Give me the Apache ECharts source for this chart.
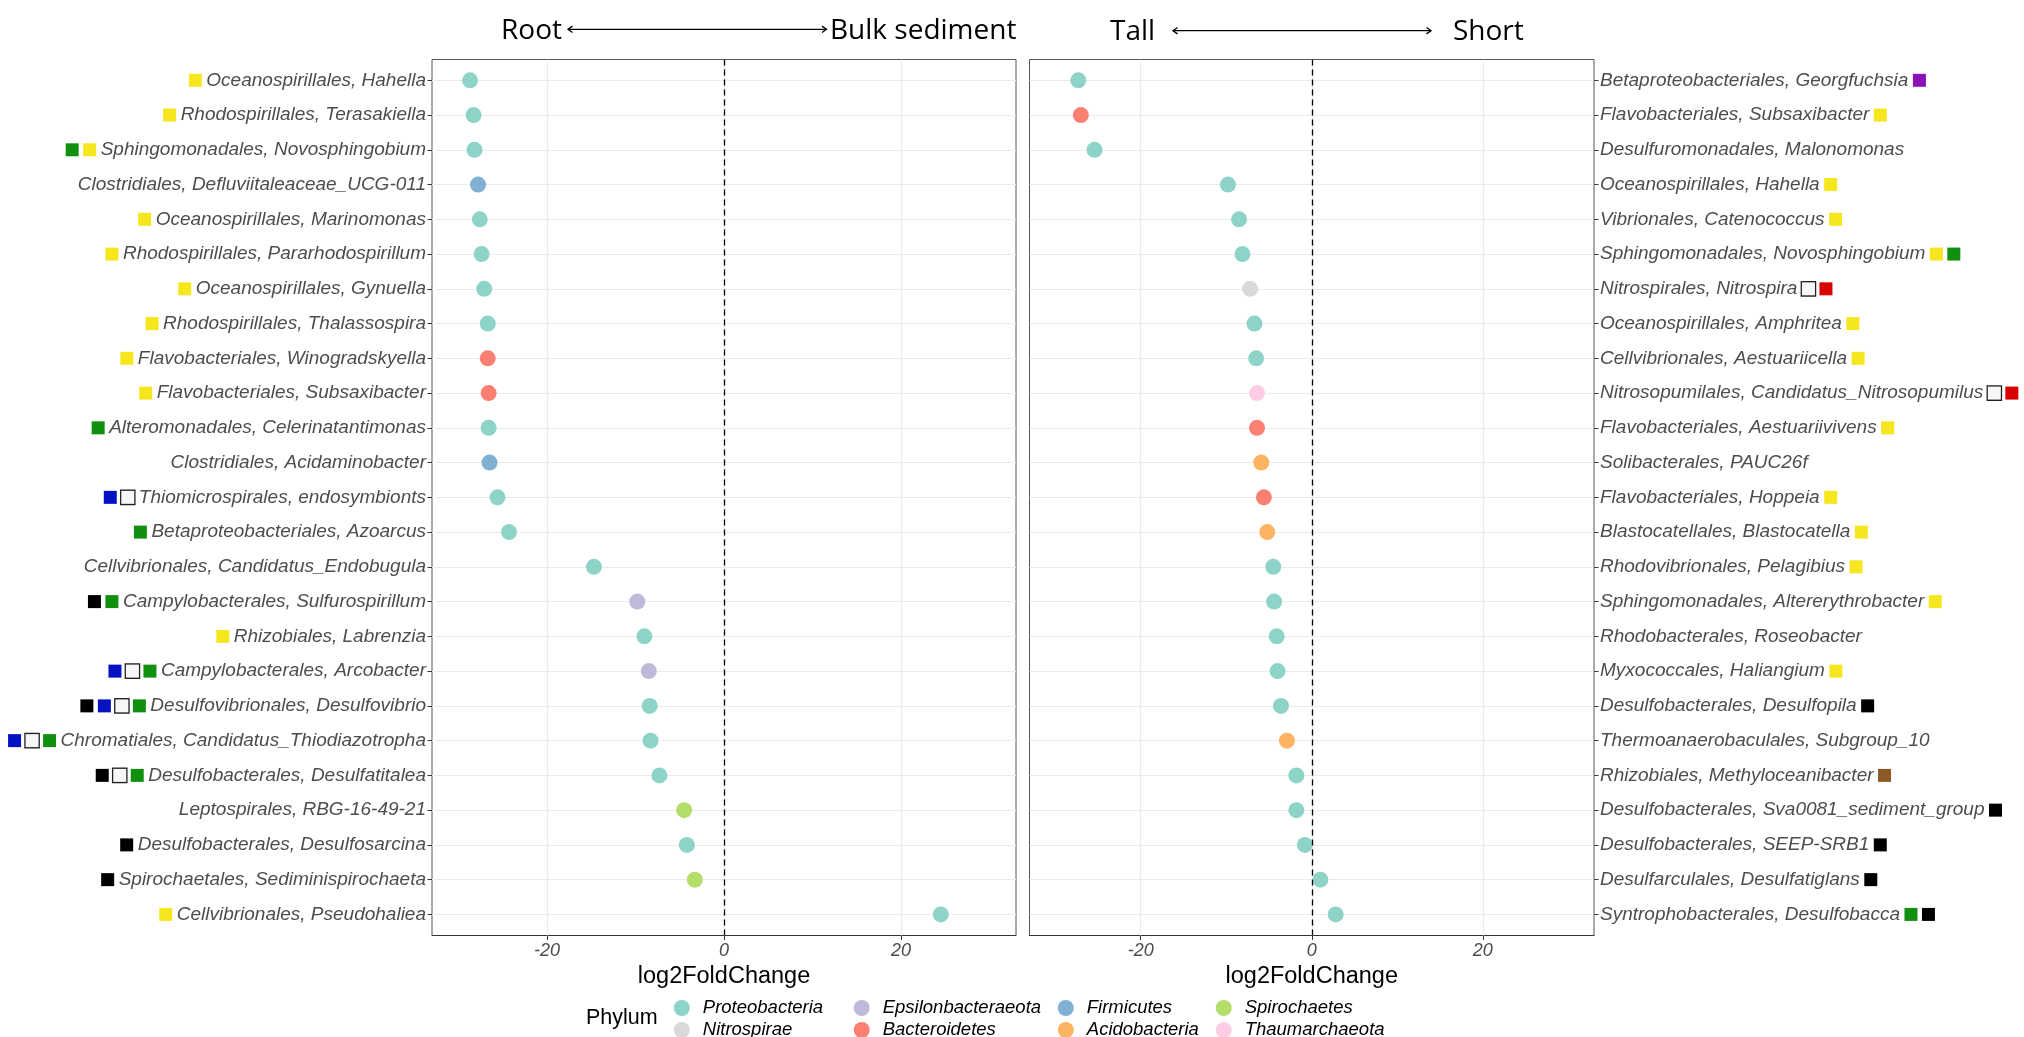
<!DOCTYPE html>
<html><head><meta charset="utf-8">
<script src="https://cdn.jsdelivr.net/npm/echarts@6/dist/echarts.min.js"></script>
<style>html,body{margin:0;padding:0;background:#fff}#c{width:2024px;height:1037px}</style>
</head><body><div id="c"></div>
<script>
// ---------------- DATA ----------------
const leftTaxa = [
  'Oceanospirillales, Hahella','Rhodospirillales, Terasakiella','Sphingomonadales, Novosphingobium',
  'Clostridiales, Defluviitaleaceae_UCG-011','Oceanospirillales, Marinomonas','Rhodospirillales, Pararhodospirillum',
  'Oceanospirillales, Gynuella','Rhodospirillales, Thalassospira','Flavobacteriales, Winogradskyella',
  'Flavobacteriales, Subsaxibacter','Alteromonadales, Celerinatantimonas','Clostridiales, Acidaminobacter',
  'Thiomicrospirales, endosymbionts','Betaproteobacteriales, Azoarcus','Cellvibrionales, Candidatus_Endobugula',
  'Campylobacterales, Sulfurospirillum','Rhizobiales, Labrenzia','Campylobacterales, Arcobacter',
  'Desulfovibrionales, Desulfovibrio','Chromatiales, Candidatus_Thiodiazotropha','Desulfobacterales, Desulfatitalea',
  'Leptospirales, RBG-16-49-21','Desulfobacterales, Desulfosarcina','Spirochaetales, Sediminispirochaeta',
  'Cellvibrionales, Pseudohaliea'
];
const leftLFC = [-28.7,-28.3,-28.2,-27.8,-27.6,-27.4,-27.1,-26.7,-26.7,-26.6,-26.6,-26.5,-25.6,-24.3,-14.7,-9.8,-9.0,-8.5,-8.4,-8.3,-7.3,-4.5,-4.2,-3.3,24.5];
const leftPhylum = [
  'Proteobacteria','Proteobacteria','Proteobacteria','Firmicutes','Proteobacteria','Proteobacteria',
  'Proteobacteria','Proteobacteria','Bacteroidetes','Bacteroidetes','Proteobacteria','Firmicutes',
  'Proteobacteria','Proteobacteria','Proteobacteria','Epsilonbacteraeota','Proteobacteria','Epsilonbacteraeota',
  'Proteobacteria','Proteobacteria','Proteobacteria','Spirochaetes','Proteobacteria','Spirochaetes','Proteobacteria'
];
// marker squares: Y yellow, G green, B blue, W white, K black, R red, P purple, N brown
const leftMarkers = [
  ['Y'],['Y'],['G','Y'],[],['Y'],['Y'],['Y'],['Y'],['Y'],['Y'],['G'],[],['B','W'],['G'],[],
  ['K','G'],['Y'],['B','W','G'],['K','B','W','G'],['B','W','G'],['K','W','G'],[],['K'],['K'],['Y']
];

const rightTaxa = [
  'Betaproteobacteriales, Georgfuchsia','Flavobacteriales, Subsaxibacter','Desulfuromonadales, Malonomonas',
  'Oceanospirillales, Hahella','Vibrionales, Catenococcus','Sphingomonadales, Novosphingobium',
  'Nitrospirales, Nitrospira','Oceanospirillales, Amphritea','Cellvibrionales, Aestuariicella',
  'Nitrosopumilales, Candidatus_Nitrosopumilus','Flavobacteriales, Aestuariivivens','Solibacterales, PAUC26f',
  'Flavobacteriales, Hoppeia','Blastocatellales, Blastocatella','Rhodovibrionales, Pelagibius',
  'Sphingomonadales, Altererythrobacter','Rhodobacterales, Roseobacter','Myxococcales, Haliangium',
  'Desulfobacterales, Desulfopila','Thermoanaerobaculales, Subgroup_10','Rhizobiales, Methyloceanibacter',
  'Desulfobacterales, Sva0081_sediment_group','Desulfobacterales, SEEP-SRB1','Desulfarculales, Desulfatiglans',
  'Syntrophobacterales, Desulfobacca'
];
const rightLFC = [-27.3,-27.0,-25.4,-9.8,-8.5,-8.1,-7.2,-6.7,-6.5,-6.4,-6.4,-5.9,-5.6,-5.2,-4.5,-4.4,-4.1,-4.0,-3.6,-2.9,-1.8,-1.8,-0.8,1.0,2.8];
const rightPhylum = [
  'Proteobacteria','Bacteroidetes','Proteobacteria','Proteobacteria','Proteobacteria','Proteobacteria',
  'Nitrospirae','Proteobacteria','Proteobacteria','Thaumarchaeota','Bacteroidetes','Acidobacteria',
  'Bacteroidetes','Acidobacteria','Proteobacteria','Proteobacteria','Proteobacteria','Proteobacteria',
  'Proteobacteria','Acidobacteria','Proteobacteria','Proteobacteria','Proteobacteria','Proteobacteria','Proteobacteria'
];
const rightMarkers = [
  ['P'],['Y'],[],['Y'],['Y'],['Y','G'],['W','R'],['Y'],['Y'],['W','R'],['Y'],[],['Y'],['Y'],['Y'],['Y'],[],['Y'],
  ['K'],[],['N'],['K'],['K'],['K'],['G','K']
];

const phyla = ['Proteobacteria','Nitrospirae','Epsilonbacteraeota','Bacteroidetes','Firmicutes','Acidobacteria','Spirochaetes','Thaumarchaeota'];
const phylumColors = ['#8DD3C7','#D9D9D9','#BEBADA','#FB8072','#80B1D3','#FDB462','#B3DE69','#FCCDE5'];
const markerColors = {Y:'#F6E61E', G:'#11900F', B:'#0512C2', W:'#F7F7F7', K:'#000000', R:'#D90000', P:'#8A10B8', N:'#8B5A26'};
const xTicks = [-20, 0, 20];
const panelTitles = [['Root','Bulk sediment'],['Tall','Short']];

// ---------------- LAYOUT ----------------
const FONT = '"Liberation Sans", Arial, sans-serif';
const TFONT = '"Open Sans", Lato, sans-serif';
const panels = [{x:432, w:584}, {x:1029.5, w:564.5}];
const FRAME_TOP = 59.5, FRAME_H = 876, DATA_TOP = 80.3, DATA_H = 834.1;

function richStyles(){
  const r = {
    t:{fontStyle:'italic', fontSize:19, color:'#4D4D4D', fontFamily:FONT},
    sp:{width:4.5, fontSize:10}
  };
  for (const k in markerColors){
    r[k] = {width:13, height:13, backgroundColor:markerColors[k], fontSize:10, verticalAlign:'middle'};
  }
  r.W.borderColor = '#222'; r.W.borderWidth = 1.3;
  return r;
}
const rich = richStyles();

const grids = [], xAxes = [], yAxes = [], series = [];
panels.forEach((p, pi) => {
  const taxa = pi === 0 ? leftTaxa : rightTaxa;
  const lfc = pi === 0 ? leftLFC : rightLFC;
  const phy = pi === 0 ? leftPhylum : rightPhylum;
  const mk = pi === 0 ? leftMarkers : rightMarkers;
  const gFrame = grids.length;
  grids.push({left:p.x, width:p.w, top:FRAME_TOP, height:FRAME_H, show:true, borderColor:'#555', borderWidth:1, containLabel:false});
  const gData = grids.length;
  grids.push({left:p.x, width:p.w, top:DATA_TOP, height:DATA_H, containLabel:false});
  const xf = xAxes.length;
  xAxes.push({gridIndex:gFrame, type:'value', min:-33, max:33,
    axisLine:{show:true, onZero:false, lineStyle:{color:'#333', width:1}},
    axisTick:{show:true, customValues:xTicks, length:4.5, lineStyle:{color:'#333'}},
    axisLabel:{customValues:xTicks, fontSize:18, fontStyle:'italic', color:'#4D4D4D', margin:6, fontFamily:FONT},
    splitLine:{show:false},
    name:'log2FoldChange', nameLocation:'middle', nameGap:22,
    nameTextStyle:{fontSize:23.5, color:'#000', fontFamily:FONT}});
  const yf = yAxes.length;
  yAxes.push({gridIndex:gFrame, type:'value', min:0, max:1, show:false});
  const xd = xAxes.length;
  xAxes.push({gridIndex:gData, type:'value', min:-33, max:33, show:false});
  const yd = yAxes.length;
  yAxes.push({gridIndex:gData, type:'category', data:taxa, inverse:true, boundaryGap:false,
    position: pi === 0 ? 'left' : 'right',
    axisLine:{show:false, onZero:false},
    axisTick:{show:true, interval:0, length:4.5, lineStyle:{color:'#333'}},
    splitLine:{show:true, interval:0, lineStyle:{color:'#EBEBEB', width:1.2}},
    axisLabel:{interval:0, margin:6, fontStyle:'italic', fontSize:19, color:'#4D4D4D', fontFamily:FONT, rich:rich,
      formatter: function(v, i){
        const ms = mk[i] || [];
        if (pi === 0) return ms.map(m => '{' + m + '|\u00a0}{sp|\u00a0}').join('') + '{t|' + v + '}';
        return '{t|' + v + '}' + ms.map(m => '{sp|\u00a0}{' + m + '|\u00a0}').join('');
      }}});
  // vertical grid lines & zero line on the frame grid
  series.push({type:'scatter', name:'_grid' + pi, xAxisIndex:xf, yAxisIndex:yf, data:[[0,0.5]], symbolSize:0, silent:true, z:1,
    markLine:{silent:true, symbol:['none','none'], label:{show:false}, animation:false,
      lineStyle:{color:'#EBEBEB', width:1.2, type:'solid'}, data:xTicks.map(v => ({xAxis:v}))}});
  series.push({type:'scatter', name:'_zero' + pi, xAxisIndex:xf, yAxisIndex:yf, data:[[0,0.5]], symbolSize:0, silent:true, z:2,
    markLine:{silent:true, symbol:['none','none'], label:{show:false}, animation:false,
      lineStyle:{color:'#000', width:1.3, type:[6,4]}, data:[{xAxis:0}]}});
  phyla.forEach((ph, k) => {
    const d = [];
    taxa.forEach((t, i) => { if (phy[i] === ph) d.push([lfc[i], t]); });
    if (!d.length) return;
    series.push({type:'scatter', name:ph, xAxisIndex:xd, yAxisIndex:yd, data:d, symbol:'circle', symbolSize:16,
      itemStyle:{color:phylumColors[k], opacity:1}, z:3});
  });
});

// legends: 4 columns x 2 rows, column-major like ggplot
const legendCols = [673.8, 853.7, 1057.8, 1215.7];
const legends = legendCols.map((lx, c) => ({
  orient:'vertical', left:lx, top:998, width:220, height:80, padding:0, itemWidth:16, itemHeight:16, itemGap:2, icon:'circle',
  selectedMode:false, data:[phyla[2*c], phyla[2*c+1]],
  textStyle:{fontStyle:'italic', fontSize:18.5, color:'#000', fontFamily:FONT, lineHeight:20, padding:[0,0,0,8]}
}));

// header titles with double arrows
function arrow(x1, x2, y){
  const h = 4.5, a = 3.2;
  return [
    {type:'line', shape:{x1:x1, y1:y, x2:x2, y2:y}, style:{stroke:'#000', lineWidth:1.3}},
    {type:'polyline', shape:{points:[[x1+h, y-a],[x1, y],[x1+h, y+a]]}, style:{stroke:'#000', lineWidth:1.3, fill:null}},
    {type:'polyline', shape:{points:[[x2-h, y-a],[x2, y],[x2-h, y+a]]}, style:{stroke:'#000', lineWidth:1.3, fill:null}}
  ];
}
const graphics = [
  {type:'text', left:501, top:17, style:{text:panelTitles[0][0], font:'28px ' + TFONT, fill:'#000'}},
  {type:'text', left:830, top:17, style:{text:panelTitles[0][1], font:'28px ' + TFONT, fill:'#000'}},
  {type:'text', left:1110, top:18, style:{text:panelTitles[1][0], font:'28px ' + TFONT, fill:'#000'}},
  {type:'text', left:1453, top:18, style:{text:panelTitles[1][1], font:'28px ' + TFONT, fill:'#000'}},
  ...arrow(568, 826.5, 29.3),
  ...arrow(1173, 1431, 30.7),
  {type:'text', left:586, top:1007, style:{text:'Phylum', font:'21.5px ' + FONT, fill:'#000'}}
];

const chart = echarts.init(document.getElementById('c'), null, {renderer:'canvas'});
chart.setOption({
  animation:false,
  backgroundColor:'#fff',
  grid:grids, xAxis:xAxes, yAxis:yAxes, series:series, legend:legends,
  graphic:{elements:graphics}
});
</script>
</body></html>
